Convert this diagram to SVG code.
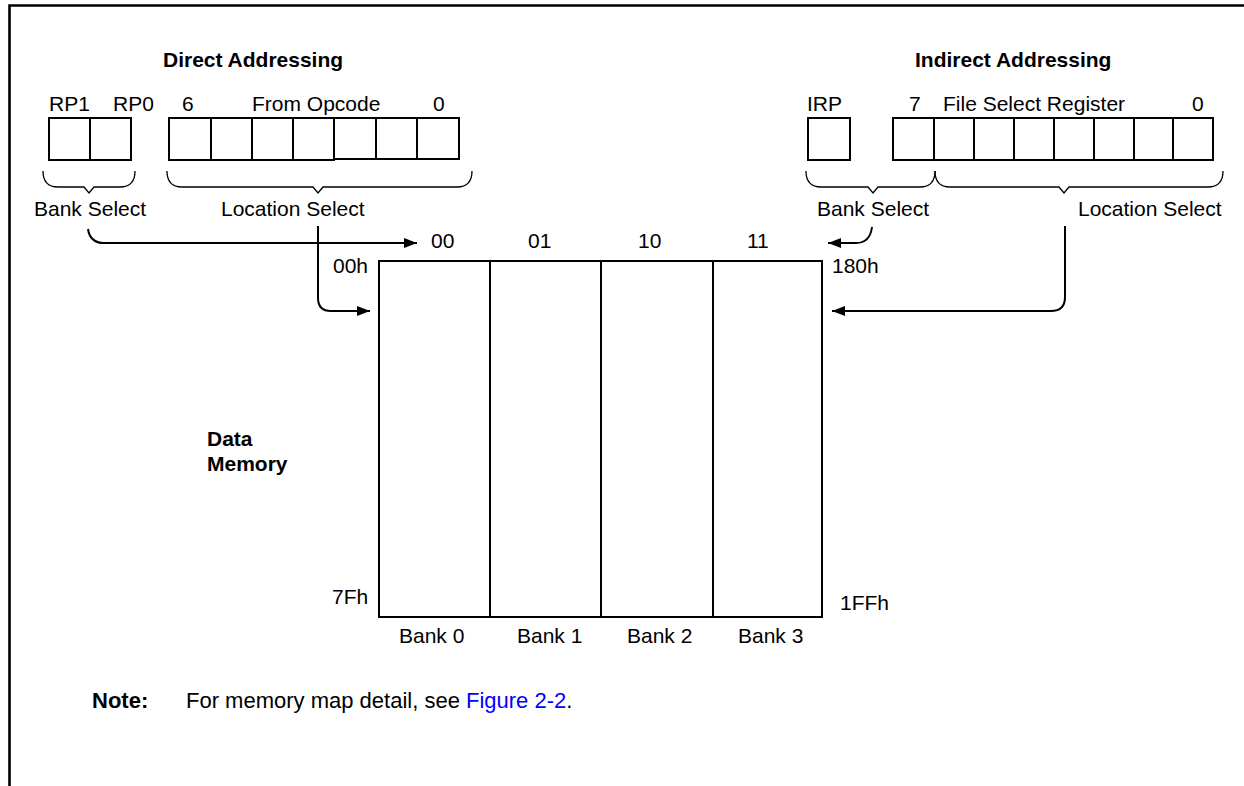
<svg xmlns="http://www.w3.org/2000/svg" width="1244" height="786" viewBox="0 0 1244 786">
<style>
  .t { font-family: "Liberation Sans", Arial, sans-serif; font-size: 21px; fill: #000; }
  .b { font-family: "Liberation Sans", Arial, sans-serif; font-size: 21px; font-weight: bold; fill: #000; }
  .n { font-family: "Liberation Sans", Arial, sans-serif; font-size: 22px; fill: #000; }
  .nb { font-family: "Liberation Sans", Arial, sans-serif; font-size: 22px; font-weight: bold; fill: #000; }
  .box { fill: #fff; stroke: #000; stroke-width: 2; }
  .ln { fill: none; stroke: #000; stroke-width: 2; }
  .br { fill: none; stroke: #000; stroke-width: 1.3; }
  .link { fill: #0000FF; }
</style>
<defs>
  <marker id="ah" markerUnits="userSpaceOnUse" markerWidth="14" markerHeight="10" refX="13" refY="5" orient="auto">
    <path d="M0,0 L13,5 L0,10 z" fill="#000"/>
  </marker>
</defs>
<rect width="1244" height="786" fill="#fff"/>
<g id="frame">
  <path d="M9.5,786 L9.5,5.5 L1244,5.5" fill="none" stroke="#000" stroke-width="2.6"/>
</g>

<g id="direct">
  <text class="b" x="163" y="67">Direct Addressing</text>
  <text class="t" x="49" y="111">RP1</text>
  <text class="t" x="113" y="111">RP0</text>
  <text class="t" x="182" y="111">6</text>
  <text class="t" x="252" y="111">From Opcode</text>
  <text class="t" x="433" y="111">0</text>
  <g id="rp-bits">
    <rect class="box" x="49" y="118" width="41" height="42"/>
    <rect class="box" x="90" y="118" width="41" height="42"/>
  </g>
  <g id="opcode-bits">
    <rect class="box" x="169" y="118" width="42" height="42"/>
    <rect class="box" x="211" y="118" width="41" height="42"/>
    <rect class="box" x="252" y="118" width="41" height="42"/>
    <rect class="box" x="293" y="118" width="41" height="42"/>
    <rect class="box" x="334" y="118" width="42" height="41"/>
    <rect class="box" x="376" y="118" width="41" height="41"/>
    <rect class="box" x="417" y="118" width="42" height="41"/>
  </g>
  <path class="br" d="M43,171 Q43,187 58,187 L84,187 L89,193 L94,187 L120,187 Q135,187 135,171"/>
  <path class="br" d="M167,171 Q167,187 182,187 L313,187 L318,193 L323,187 L457,187 Q472,187 472,171"/>
  <text class="t" x="34" y="216">Bank Select</text>
  <text class="t" x="221" y="216">Location Select</text>
</g>

<g id="indirect">
  <text class="b" x="915" y="67">Indirect Addressing</text>
  <text class="t" x="807" y="111">IRP</text>
  <text class="t" x="909" y="111">7</text>
  <text class="t" x="943" y="111">File Select Register</text>
  <text class="t" x="1192" y="111">0</text>
  <rect class="box" x="808" y="118" width="42" height="42"/>
  <g id="fsr-bits">
    <rect class="box" x="893" y="118" width="41" height="42"/>
    <rect class="box" x="934" y="118" width="40" height="42"/>
    <rect class="box" x="974" y="118" width="40" height="42"/>
    <rect class="box" x="1014" y="118" width="40" height="42"/>
    <rect class="box" x="1054" y="118" width="40" height="42"/>
    <rect class="box" x="1094" y="118" width="40" height="42"/>
    <rect class="box" x="1134" y="118" width="39" height="42"/>
    <rect class="box" x="1173" y="118" width="40" height="42"/>
  </g>
  <path class="br" d="M806,171 Q806,187 821,187 L868,187 L873,193 L878,187 L920,187 Q935,187 935,171"/>
  <path class="br" d="M935,171 Q935,187 950,187 L1059,187 L1064,193 L1069,187 L1208,187 Q1223,187 1223,171"/>
  <text class="t" x="817" y="216">Bank Select</text>
  <text class="t" x="1078" y="216">Location Select</text>
</g>

<g id="memory">
  <rect class="box" x="379" y="261" width="443" height="356"/>
  <path class="ln" d="M490,261 V617 M601,261 V617 M713,261 V617"/>
  <text class="t" x="431" y="248">00</text>
  <text class="t" x="528" y="248">01</text>
  <text class="t" x="638" y="248">10</text>
  <text class="t" x="747" y="248">11</text>
  <text class="t" x="333" y="273">00h</text>
  <text class="t" x="832" y="273">180h</text>
  <text class="t" x="332" y="604">7Fh</text>
  <text class="t" x="840" y="610">1FFh</text>
  <text class="t" x="399" y="643">Bank 0</text>
  <text class="t" x="517" y="643">Bank 1</text>
  <text class="t" x="627" y="643">Bank 2</text>
  <text class="t" x="738" y="643">Bank 3</text>
</g>

<g id="data-memory-label">
  <text class="b" x="207" y="446">Data</text>
  <text class="b" x="207" y="471">Memory</text>
</g>

<g id="connectors">
  <path class="ln" d="M88,229 Q90,243 104,243 L417,243" marker-end="url(#ah)"/>
  <path class="ln" d="M318,226 L318,298 Q318,311 331,311 L370,311" marker-end="url(#ah)"/>
  <path class="ln" d="M872,227 Q870,243 856,243 L828,243" marker-end="url(#ah)"/>
  <path class="ln" d="M1065,226 L1065,297 Q1065,311 1051,311 L832,311" marker-end="url(#ah)"/>
</g>

<g id="note">
  <text class="nb" x="92" y="708">Note:</text>
  <text class="n" x="186" y="708">For memory map detail, see <tspan class="link">Figure 2-2</tspan>.</text>
</g>
</svg>
